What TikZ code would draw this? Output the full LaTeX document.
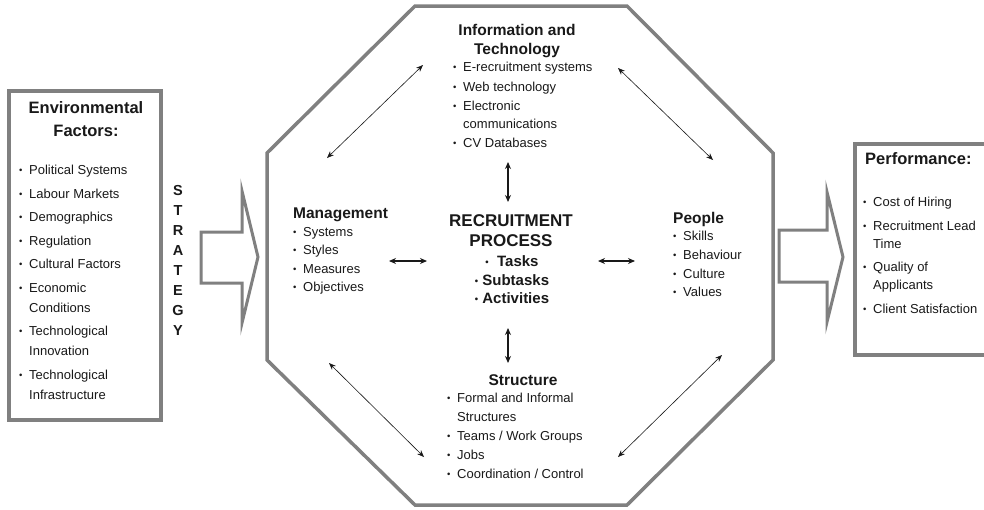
\documentclass[tikz,border=0pt]{standalone}
\usepackage{fontspec}
\setmainfont{Liberation Sans}
\usetikzlibrary{arrows.meta}
\definecolor{framegray}{RGB}{128,128,128}
\definecolor{inkgray}{RGB}{25,25,25}
\newcommand{\dotmark}{\raisebox{1.2pt}{\fontsize{9.5}{9.5}\selectfont\textbullet}}
\newcommand{\itm}{\makebox[10pt][l]{\dotmark}}
\newcommand{\ind}{\hspace*{10pt}}
\tikzset{
  frame/.style={draw=framegray, line width=3.5pt, fill=white, line join=miter},
  boxhead/.style={font=\fontsize{16.5}{23}\selectfont\bfseries, inner sep=0, align=center},
  sechead/.style={font=\fontsize{15.5}{19}\selectfont\bfseries, inner sep=0},
  blist/.style={font=\fontsize{13}{19}\selectfont, align=left, inner sep=0, anchor=north west},
  link/.style={{Stealth[length=7pt,width=5.5pt]}-{Stealth[length=7pt,width=5.5pt]}, line width=.6pt},
  corelink/.style={{Stealth[length=7pt,width=6pt]}-{Stealth[length=7pt,width=6pt]}, line width=1.1pt}
}
\begin{document}
\begin{tikzpicture}[x=1pt, y=-1pt, color=inkgray, line cap=round]
  \useasboundingbox (0,0) rectangle (984,509);
  \clip (0,0) rectangle (984,509);
  % frames
  \draw[frame] (9,91) rectangle (161,420);
  \draw[frame] (855,144) rectangle (1000,355);
  \draw[frame] (415,6) -- (627,6) -- (773,153) -- (773,360) -- (627,505)
    -- (415,505) -- (267,360) -- (267,153) -- cycle;
  % block arrows
  \draw[frame, line width=3pt] (201,232) -- (242,232) -- (242,191) -- (258,257)
    -- (242,323) -- (242,283) -- (201,283) -- cycle;
  \draw[frame, line width=3pt] (779,230) -- (827,230) -- (827,192) -- (843,257)
    -- (827,322) -- (827,282) -- (779,282) -- cycle;

  % environment
  \node[boxhead, anchor=north] (envhead) at (86,101) {Environmental\\Factors:};
  \node[blist, font=\fontsize{13}{20}\selectfont] (envlist) at (19,165.2) {%
    \itm Political Systems\\[3.5pt]
    \itm Labour Markets\\[3.5pt]
    \itm Demographics\\[3.5pt]
    \itm Regulation\\[3.5pt]
    \itm Cultural Factors\\[3.5pt]
    \itm Economic\\
    \ind Conditions\\[3.5pt]
    \itm Technological\\
    \ind Innovation\\[3.5pt]
    \itm Technological\\
    \ind Infrastructure};
  \node[font=\fontsize{14.5}{20}\selectfont\bfseries, inner sep=0, align=center,
    anchor=north] (strategy) at (178,184.8) {S\\T\\R\\A\\T\\E\\G\\Y};

  % information and technology
  \node[sechead, align=center, anchor=north] (infohead) at (517,24.4)
    {Information and\\Technology};
  \node[blist, font=\fontsize{13}{19.5}\selectfont] (infolist) at (453,62.2) {%
    \itm E-recruitment systems\\
    \itm Web technology\\
    \itm Electronic\\[-2pt]
    \ind communications\\
    \itm CV Databases};

  % management
  \node[sechead, anchor=base west] (mgmthead) at (293,218.5) {Management};
  \node[blist, font=\fontsize{13}{18.5}\selectfont] (mgmtlist) at (293,227.2) {%
    \itm Systems\\
    \itm Styles\\
    \itm Measures\\
    \itm Objectives};

  % people
  \node[sechead, anchor=base west] (pplhead) at (673,223.5) {People};
  \node[blist, font=\fontsize{13}{18.7}\selectfont] (ppllist) at (673,231.2) {%
    \itm Skills\\
    \itm Behaviour\\
    \itm Culture\\
    \itm Values};

  % recruitment process
  \node[font=\fontsize{17}{20}\selectfont\bfseries, inner sep=0, align=center,
    anchor=north] (core) at (511,214.8) {RECRUITMENT\\PROCESS};
  \node[font=\fontsize{15}{18.5}\selectfont\bfseries, inner sep=0, align=center,
    anchor=north] (tasks) at (512,255.7) {%
    \dotmark\ \ Tasks\\
    \dotmark\ Subtasks\\
    \dotmark\ Activities};

  % structure
  \node[sechead, anchor=base] (strhead) at (523,385.5) {Structure};
  \node[blist] (strlist) at (447,393.2) {%
    \itm Formal and Informal\\
    \ind Structures\\
    \itm Teams / Work Groups\\
    \itm Jobs\\
    \itm Coordination / Control};

  % performance
  \node[boxhead, anchor=base west] (perfhead) at (865,164.7) {Performance:};
  \node[blist, font=\fontsize{13}{18}\selectfont] (perflist) at (863,197.2) {%
    \itm Cost of Hiring\\[5.5pt]
    \itm Recruitment Lead\\
    \ind Time\\[5.5pt]
    \itm Quality of\\
    \ind Applicants\\[5.5pt]
    \itm Client Satisfaction};

  % link ends
  \coordinate (tl1) at (327,158); \coordinate (tl2) at (423,65);
  \coordinate (tr1) at (618,68);  \coordinate (tr2) at (713,160);
  \coordinate (bl1) at (329,363); \coordinate (bl2) at (424,457);
  \coordinate (br1) at (618,457); \coordinate (br2) at (722,355);
  \coordinate (up1) at (508,162); \coordinate (up2) at (508,202);
  \coordinate (dn1) at (508,328); \coordinate (dn2) at (508,363);
  \coordinate (lf1) at (389,261); \coordinate (lf2) at (427,261);
  \coordinate (rt1) at (598,261); \coordinate (rt2) at (635,261);

  \draw[link] (tl1) -- (tl2);
  \draw[link] (tr1) -- (tr2);
  \draw[link] (bl1) -- (bl2);
  \draw[link] (br1) -- (br2);
  \draw[corelink] (up1) -- (up2);
  \draw[corelink] (dn1) -- (dn2);
  \draw[corelink] (lf1) -- (lf2);
  \draw[corelink] (rt1) -- (rt2);
\end{tikzpicture}
\end{document}
